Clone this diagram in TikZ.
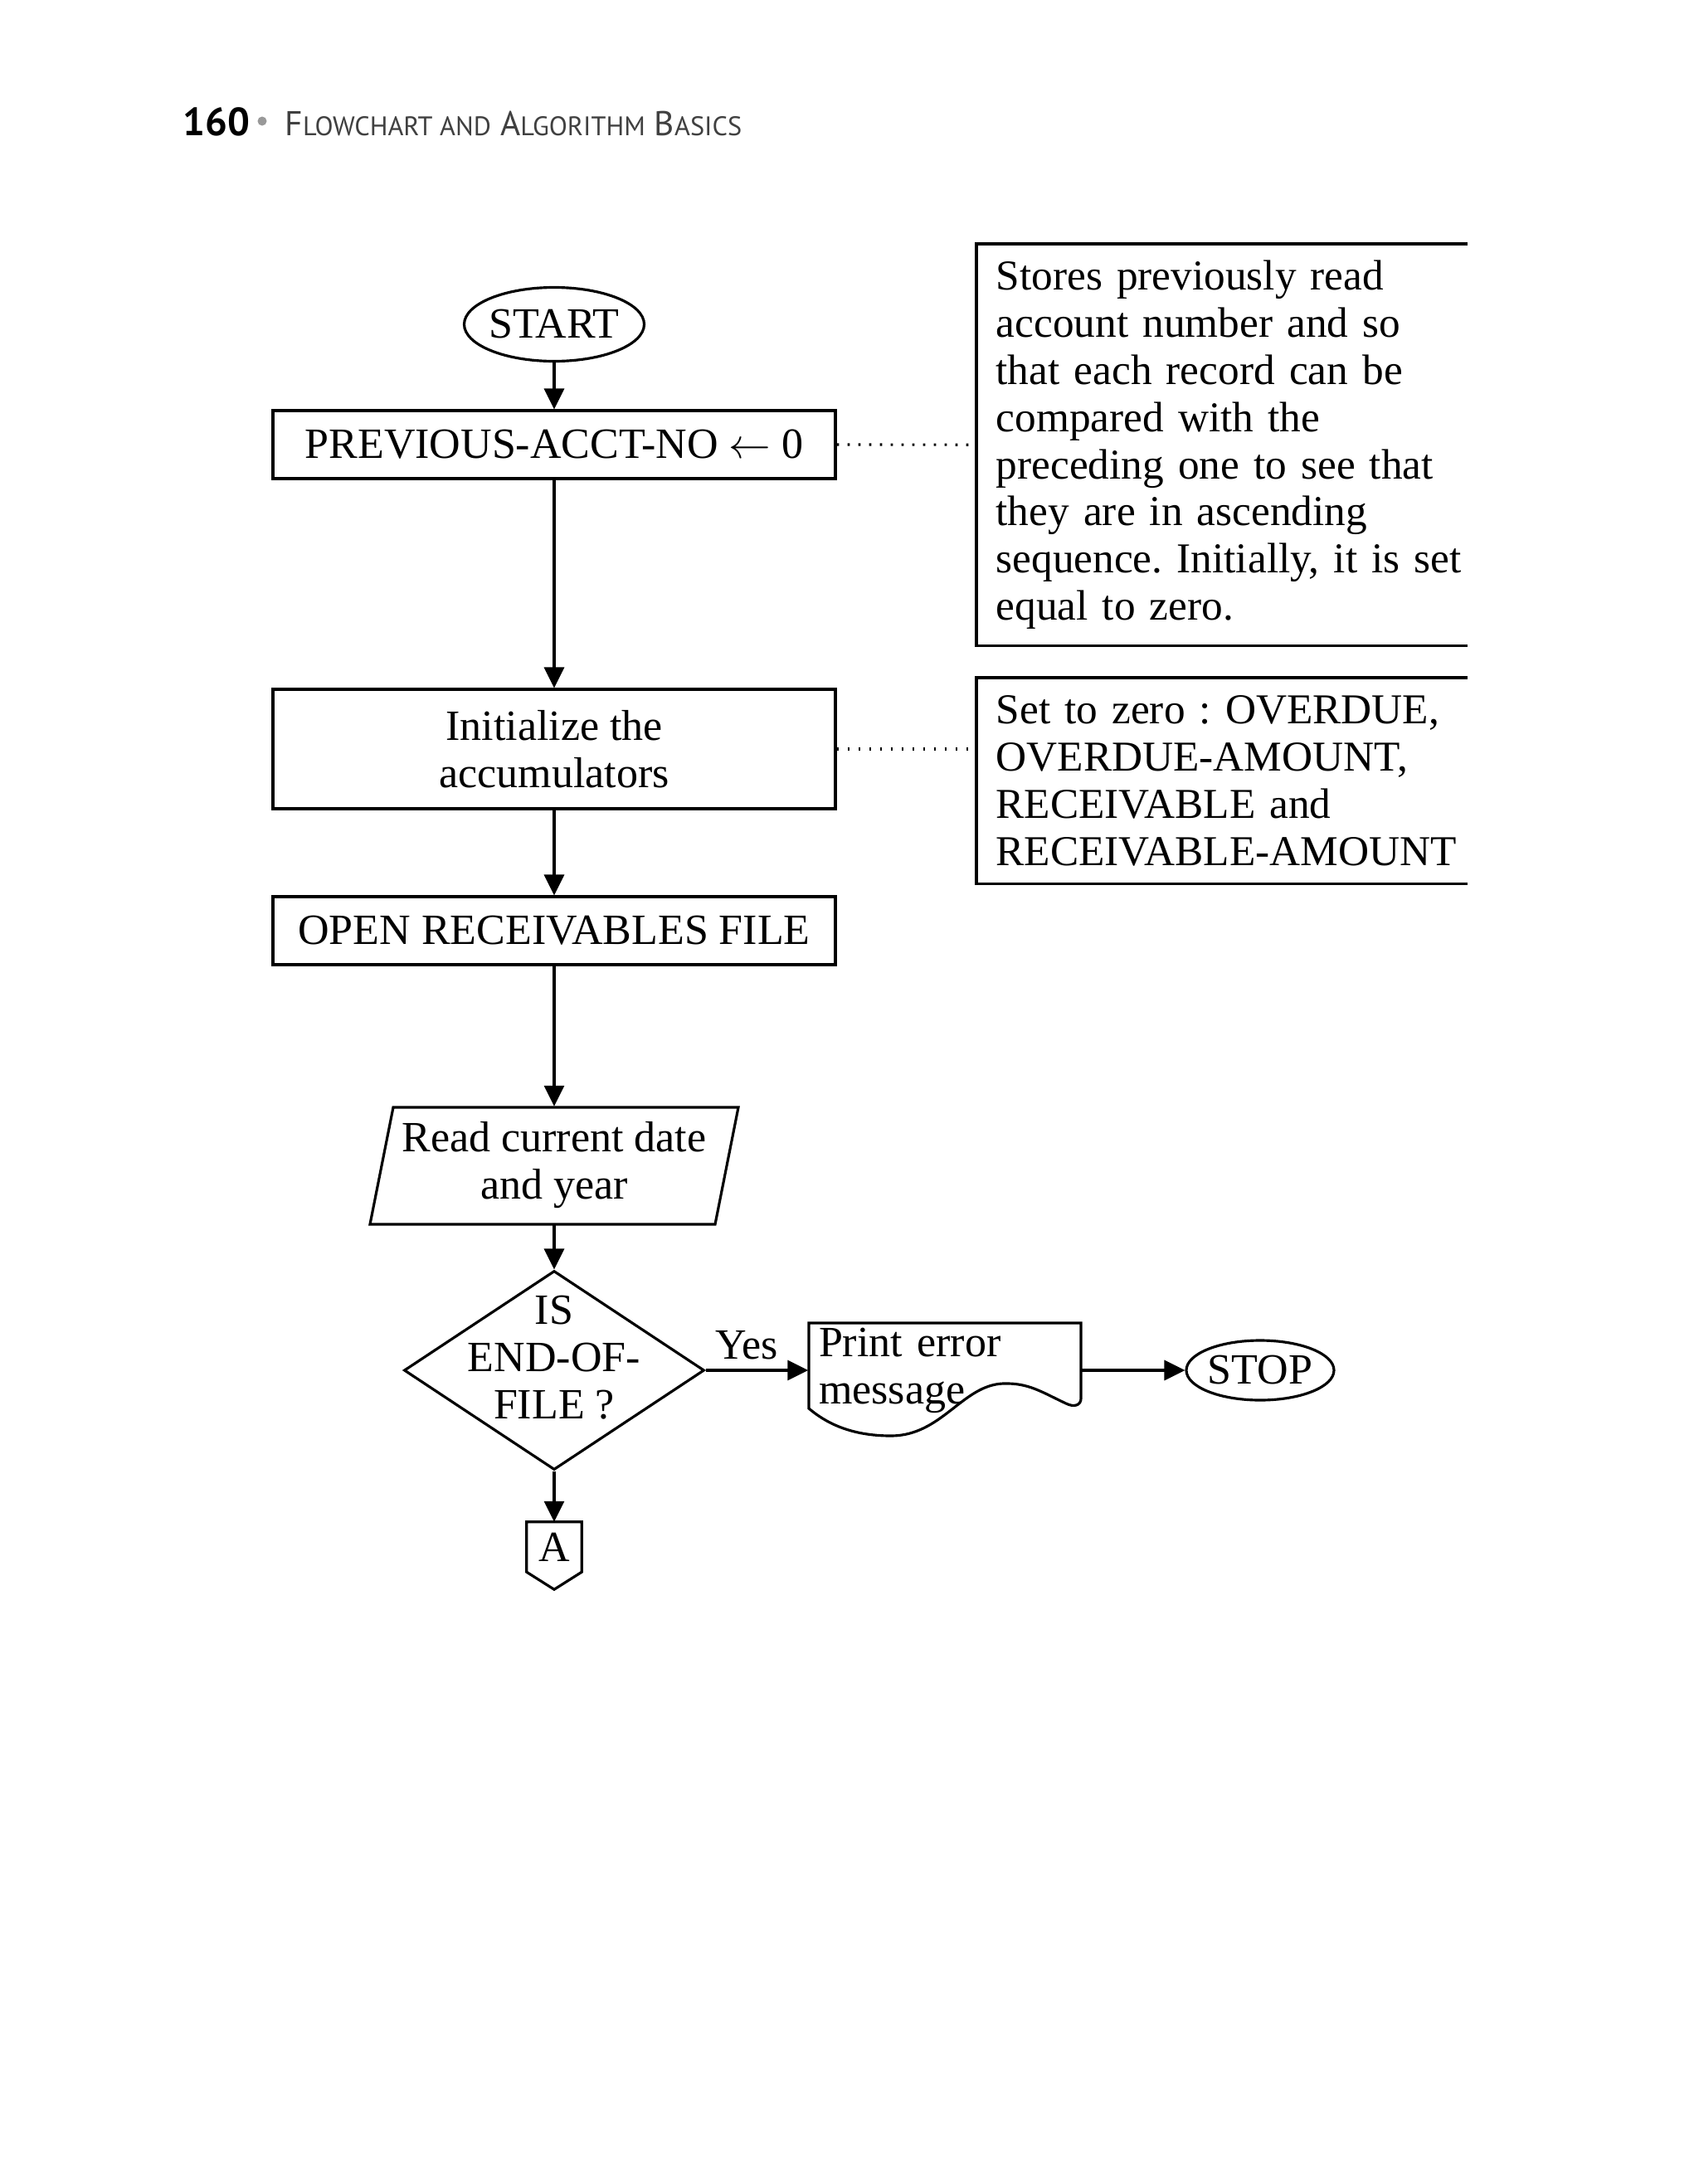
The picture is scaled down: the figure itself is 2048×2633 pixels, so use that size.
\documentclass[tikz,border=0pt]{standalone}
\usepackage{fontspec}
\setmainfont{Liberation Serif}
\newfontfamily\headfont{PT Sans}
\frenchspacing
\usetikzlibrary{shapes.geometric, arrows.meta}
\tikzstyle{proc}=[draw,line width=0.9pt,minimum width=67.8mm,inner sep=0pt,align=center]
\tikzstyle{term}=[draw,ellipse,line width=0.9pt,inner sep=-1mm]
\tikzstyle{note}=[anchor=north west,text width=60mm,inner xsep=2.3mm,inner ysep=0pt,align=left,font=\fontsize{14.6}{16.2}\selectfont]
\tikzstyle{flow}=[line width=0.9pt,-{Triangle[length=2.5mm,width=2.4mm]}]
\tikzstyle{link}=[line width=0.9pt,dash pattern=on 0.8pt off 2.9pt]
\tikzstyle{edge}=[line width=0.9pt]

\begin{document}
\begin{tikzpicture}[x=0.1mm,y=-0.1mm,font=\fontsize{14.8}{16.2}\selectfont]
	\useasboundingbox (0,0) rectangle (2048,2633);
	% running head
	\node[anchor=base west,inner sep=0pt,font=\headfont\bfseries\fontsize{13.5}{16}\selectfont] (pageno) at (220,163) {160};
	\fill[gray!80] (316,146) circle (0.55mm);
	\node[anchor=base west,inner sep=0pt,text=black!75,font=\headfont\fontsize{11.8}{14}\selectfont] (runhead) at (343,163)
		{F{\fontsize{9.2}{11}\selectfont LOWCHART AND} A{\fontsize{9.2}{11}\selectfont LGORITHM} B{\fontsize{9.2}{11}\selectfont ASICS}};
	% main column
	\node[term,minimum width=21.7mm,minimum height=8.9mm] (start) at (668,391) {START};
	\node[proc,minimum height=8.2mm] (prev) at (668,536) {PREVIOUS-ACCT-NO $\leftarrow$ 0};
	\node[proc,minimum height=14.4mm] (init) at (668,903) {Initialize the\\accumulators};
	\node[proc,minimum height=8.2mm] (open) at (668,1122) {OPEN RECEIVABLES FILE};
	\node[minimum width=41.6mm,minimum height=14.1mm,inner sep=0pt,align=center] (read) at (668,1405) {Read current date\\and year};
	\draw[edge] (474,1335) -- (890,1335) -- (862,1476) -- (446,1476) -- cycle;
	\node[diamond,draw,line width=0.9pt,minimum width=36.2mm,minimum height=24mm,inner sep=0pt] (eof) at (668,1652) {};
	\node[align=center,inner sep=0pt] (eofq) at (668,1637) {IS\\END-OF-\\FILE ?};
	\node[minimum width=6.5mm,minimum height=5.9mm,inner sep=0pt] (conA) at (668,1865) {A};
	\draw[edge] (conA.south west) -- (conA.north west) -- (conA.north east) -- (conA.south east) -- ([yshift=-2.1mm]conA.south) -- cycle;
	% error branch
	\node[text width=30.4mm,inner xsep=1.2mm,inner ysep=0pt,minimum height=11mm,align=left] (print) at (1139,1652) {Print error\\message};
	\draw[edge] (975,1595) -- (1303,1595) -- (1303,1686)
		.. controls (1303,1694) and (1295,1697) .. (1285,1692)
		.. controls (1255,1678) and (1240,1667) .. (1209,1668)
		.. controls (1160,1670) and (1135,1731) .. (1074,1731)
		.. controls (1025,1731) and (995,1715) .. (975,1698) -- cycle;
	\node[term,minimum width=17.8mm,minimum height=7.2mm] (stop) at (1519,1652) {STOP};
	% notes, open on the right
	\coordinate (rim) at (1769,0);
	\node[note,minimum height=48.3mm] (memo) at (1177,294) {Stores previously read\\account number and so\\that each record can be\\compared with the\\preceding one to see that\\they are in ascending\\sequence. Initially, it is set\\equal to zero.};
	\draw[edge] (memo.north west -| rim) -- (memo.north west) -- (memo.south west) -- (memo.south west -| rim);
	\node[note,minimum height=24.7mm] (zeros) at (1177,817) {Set to zero : OVERDUE,\\OVERDUE-AMOUNT,\\RECEIVABLE and\\RECEIVABLE-AMOUNT};
	\draw[edge] (zeros.north west -| rim) -- (zeros.north west) -- (zeros.south west) -- (zeros.south west -| rim);
	% connectors
	\draw[flow] (start) -- (prev);
	\draw[flow] (prev) -- (init);
	\draw[flow] (init) -- (open);
	\draw[flow] (open) -- (read);
	\draw[flow] (read) -- (eof);
	\draw[flow] (eof) -- (conA);
	\draw[flow] (eof) -- node[above,pos=0.4] (yes) {Yes} (print);
	\draw[flow] (print) -- (stop);
	\draw[link] (prev.east) -- (memo.west);
	\draw[link] (init.east) -- (init.east -| zeros.west);
\end{tikzpicture}
\end{document}
